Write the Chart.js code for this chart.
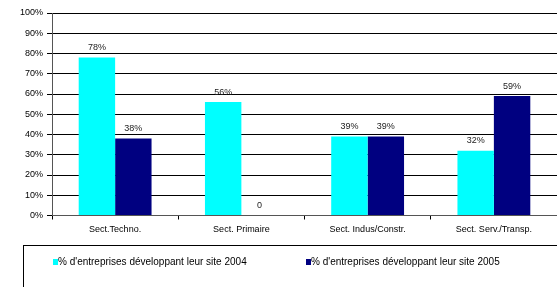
<!DOCTYPE html>
<html><head><meta charset="utf-8">
<script src="https://cdn.jsdelivr.net/npm/chart.js@4/dist/chart.umd.min.js"></script>
<style>html,body{margin:0;padding:0;background:#fff}#w{width:557px;height:287px;position:relative}</style>
</head><body><div id="w"><canvas id="c"></canvas></div>
<script>
const categories = ["Sect.Techno.", "Sect. Primaire", "Sect. Indus/Constr.", "Sect. Serv./Transp."];
const series2004 = [78, 56, 39, 32];
const series2005 = [38, 0, 39, 59];
const seriesNames = ["% d'entreprises développant leur site 2004", "% d'entreprises développant leur site 2005"];
const yTicks = [0,10,20,30,40,50,60,70,80,90,100];

const FONT = "Liberation Sans, Arial, sans-serif";

const valueLabels = {
  id: 'valueLabels',
  afterDatasetsDraw(chart) {
    const ctx = chart.ctx;
    ctx.save();
    ctx.font = "9px " + FONT;
    ctx.fillStyle = "#222";
    ctx.textAlign = "center";
    ctx.textBaseline = "middle";
    chart.data.datasets.forEach((ds, i) => {
      const meta = chart.getDatasetMeta(i);
      meta.data.forEach((bar, j) => {
        const v = ds.data[j];
        const t = v === 0 ? "0" : v + "%";
        ctx.fillText(t, bar.x, bar.y - 10);
      });
    });
    ctx.restore();
  }
};

const legendBox = {
  id: 'legendBox',
  afterDraw(chart) {
    const ctx = chart.ctx;
    ctx.save();
    ctx.strokeStyle = "#000";
    ctx.lineWidth = 1;
    ctx.strokeRect(23.5, 245.5, 700, 100);
    ctx.font = "10px " + FONT;
    ctx.textBaseline = "middle";
    ctx.textAlign = "left";
    const xs = [53, 306];
    chart.data.datasets.forEach((ds, i) => {
      ctx.fillStyle = ds.backgroundColor;
      ctx.fillRect(xs[i], 259, 5, 6);
      ctx.fillStyle = "#000";
      ctx.fillText(ds.label, xs[i] + 5, 262.5);
    });
    ctx.restore();
  }
};

new Chart(document.getElementById('c'), {
  type: 'bar',
  data: {
    labels: categories,
    datasets: [
      { label: seriesNames[0], data: series2004, backgroundColor: "#00FFFF", categoryPercentage: 0.577, barPercentage: 1.0 },
      { label: seriesNames[1], data: series2005, backgroundColor: "#000080", categoryPercentage: 0.577, barPercentage: 1.0 }
    ]
  },
  options: {
    responsive: true,
    maintainAspectRatio: false,
    animation: false,
    devicePixelRatio: 1,
    layout: { padding: { top: 13, right: -1, left: 0, bottom: 0 } },
    plugins: { legend: { display: false }, tooltip: { enabled: false } },
    scales: {
      y: {
        min: 0, max: 100,
        afterBuildTicks(s) { s.ticks = yTicks.map(v => ({ value: v })); },
        afterFit(s) { s.width = 52; },
        ticks: { callback: v => v + "%", font: { family: FONT, size: 9 }, color: "#000", padding: 4 },
        grid: { color: "#000", lineWidth: 1, tickLength: 5, drawTicks: true },
        border: { color: "#555", width: 1 }
      },
      x: {
        afterFit(s) { s.height = 71.5; },
        ticks: { font: { family: FONT, size: 9 }, color: "#000", padding: 5, maxRotation: 0 },
        grid: { drawOnChartArea: false, color: "#000", tickLength: 4, offset: true },
        border: { color: "#555", width: 1 }
      }
    }
  },
  plugins: [valueLabels, legendBox]
});
</script>
</body></html>
